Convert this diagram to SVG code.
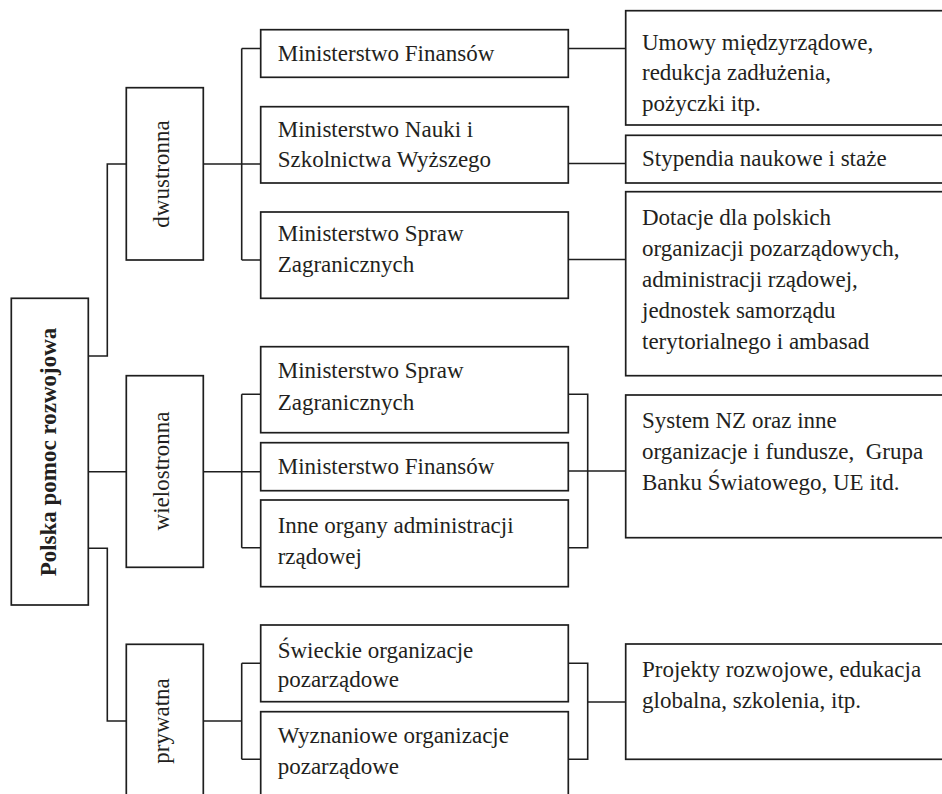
<svg xmlns="http://www.w3.org/2000/svg" width="942" height="794" viewBox="0 0 942 794">
<style>
rect.b{fill:#fff;stroke:#1e1e1e;stroke-width:1.7}
text{font-family:"Liberation Serif","Times New Roman",serif;font-size:23px;fill:#231f20}
text.bold{font-weight:bold}
#connectors path{fill:none;stroke:#1e1e1e;stroke-width:1.6}
</style>
<rect width="942" height="794" fill="#fff"/>
<g id="connectors">
<path d="M88.3,356 H107.3 V164 H126.3"/>
<path d="M88.3,471.7 H126.3"/>
<path d="M88.3,548.3 H107.3 V721 H126.3"/>
<path d="M203.3,164 H260.7 M241.7,48.5 V260 M241.7,48.5 H260.7 M241.7,260 H260.7"/>
<path d="M568.3,48.5 H625.7 M568.3,163.5 H625.7 M568.3,259.5 H625.7"/>
<path d="M203.3,471.7 H260.7 M241.7,394.3 V547.7 M241.7,394.3 H260.7 M241.7,547.7 H260.7"/>
<path d="M568.3,394.3 H587.7 V547.7 H568.3 M568.3,471 H625.7"/>
<path d="M203.3,721 H241.7 M241.7,663.3 V759.3 M241.7,663.3 H260.7 M241.7,759.3 H260.7"/>
<path d="M568.3,663.3 H587.7 V759.3 H568.3 M587.7,702 H625.7"/>
</g>
<g id="root">
<rect class="b" x="11.3" y="298.3" width="77" height="306.7"/>
<text class="bold" transform="translate(56,452) rotate(-90)" text-anchor="middle">Polska pomoc rozwojowa</text>
</g>
<g id="dwustronna">
<rect class="b" x="126.3" y="87.7" width="77" height="172.3"/>
<text transform="translate(169,174) rotate(-90)" text-anchor="middle">dwustronna</text>
</g>
<g id="wielostronna">
<rect class="b" x="126.3" y="375.7" width="77" height="191.6"/>
<text transform="translate(169,471) rotate(-90)" text-anchor="middle">wielostronna</text>
</g>
<g id="prywatna">
<rect class="b" x="126.3" y="644.3" width="77" height="155"/>
<text transform="translate(169,721) rotate(-90)" text-anchor="middle">prywatna</text>
</g>
<g id="mf1">
<rect class="b" x="260.7" y="29.7" width="307.6" height="47.6"/>
<text x="277.7" y="61">Ministerstwo Finansów</text>
</g>
<g id="mnisw">
<rect class="b" x="260.7" y="106.7" width="307.6" height="76.3"/>
<text x="277.7" y="136.7">Ministerstwo Nauki i</text>
<text x="277.7" y="167">Szkolnictwa Wyższego</text>
</g>
<g id="msz1">
<rect class="b" x="260.7" y="212" width="307.6" height="86.3"/>
<text x="277.7" y="241">Ministerstwo Spraw</text>
<text x="277.7" y="272">Zagranicznych</text>
</g>
<g id="msz2">
<rect class="b" x="260.7" y="346.7" width="307.6" height="86"/>
<text x="277.7" y="378.3">Ministerstwo Spraw</text>
<text x="277.7" y="409.5">Zagranicznych</text>
</g>
<g id="mf2">
<rect class="b" x="260.7" y="442.7" width="307.6" height="48"/>
<text x="277.7" y="473.5">Ministerstwo Finansów</text>
</g>
<g id="inne">
<rect class="b" x="260.7" y="500" width="307.6" height="86.7"/>
<text x="277.7" y="532.7">Inne organy administracji</text>
<text x="277.7" y="563.5">rządowej</text>
</g>
<g id="swieckie">
<rect class="b" x="260.7" y="625" width="307.6" height="76.7"/>
<text x="277.7" y="657.7">Świeckie organizacje</text>
<text x="277.7" y="687">pozarządowe</text>
</g>
<g id="wyznaniowe">
<rect class="b" x="260.7" y="711.7" width="307.6" height="90"/>
<text x="277.7" y="743.3">Wyznaniowe organizacje</text>
<text x="277.7" y="773.5">pozarządowe</text>
</g>
<g id="umowy">
<rect class="b" x="625.7" y="10.7" width="320" height="114.3"/>
<text x="642" y="49.5">Umowy międzyrządowe,</text>
<text x="642" y="80">redukcja zadłużenia,</text>
<text x="642" y="110.5">pożyczki itp.</text>
</g>
<g id="stypendia">
<rect class="b" x="625.7" y="135.3" width="320" height="47.7"/>
<text x="642" y="165.5">Stypendia naukowe i staże</text>
</g>
<g id="dotacje">
<rect class="b" x="625.7" y="191.7" width="320" height="184"/>
<text x="642" y="225">Dotacje dla polskich</text>
<text x="642" y="256">organizacji pozarządowych,</text>
<text x="642" y="287">administracji rządowej,</text>
<text x="642" y="318">jednostek samorządu</text>
<text x="642" y="349">terytorialnego i ambasad</text>
</g>
<g id="system">
<rect class="b" x="625.7" y="395" width="320" height="142.7"/>
<text x="642" y="428">System NZ oraz inne</text>
<text x="642" y="459" xml:space="preserve">organizacje i fundusze,  Grupa</text>
<text x="642" y="490">Banku Światowego, UE itd.</text>
</g>
<g id="projekty">
<rect class="b" x="625.7" y="644" width="320" height="115.3"/>
<text x="642" y="677">Projekty rozwojowe, edukacja</text>
<text x="642" y="708">globalna, szkolenia, itp.</text>
</g>
</svg>
